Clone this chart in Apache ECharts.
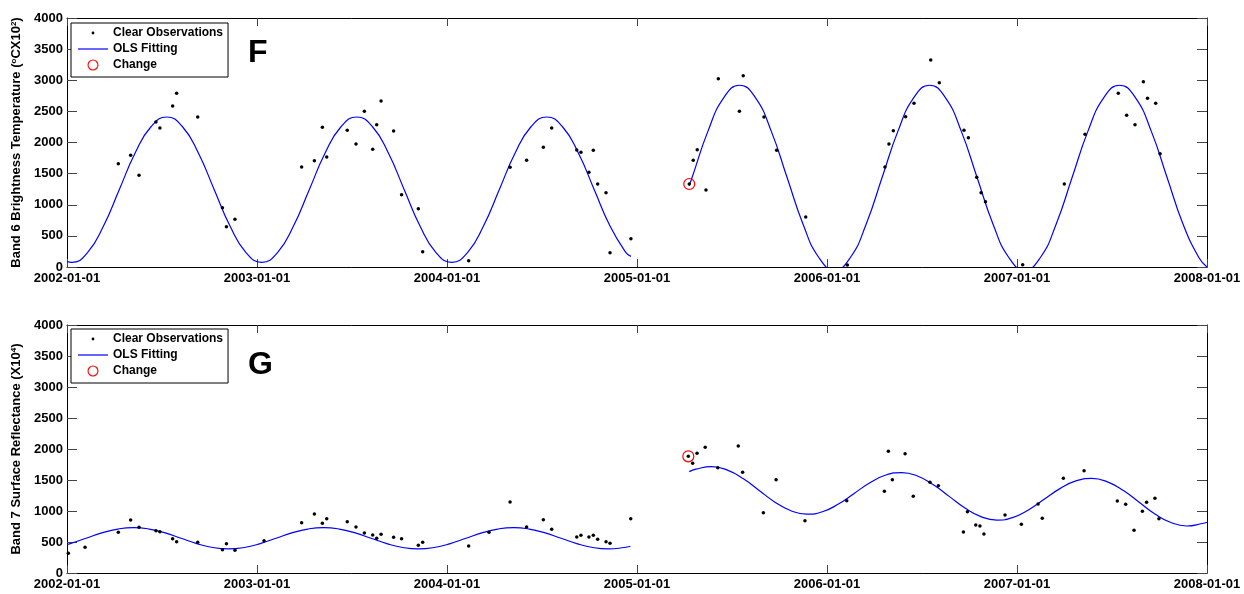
<!DOCTYPE html>
<html><head><meta charset="utf-8">
<script src="https://cdn.jsdelivr.net/npm/echarts@6/dist/echarts.min.js"></script>
<style>html,body{margin:0;padding:0;background:#fff}#c{width:1244px;height:594px}</style>
</head><body><div id="c"></div>
<script>
const xTickLabels = ['2002-01-01','2003-01-01','2004-01-01','2005-01-01','2006-01-01','2007-01-01','2008-01-01'];

// Panel F: Band 6 brightness temperature
const topObs = [[2002.270,1660],[2002.335,1794],[2002.379,1473],[2002.468,2329],[2002.489,2233],[2002.556,2586],[2002.577,2790],[2002.688,2410],[2002.818,953],[2002.839,647],[2002.884,766],
[2003.235,1606],[2003.302,1708],[2003.344,2244],[2003.367,1767],[2003.475,2195],[2003.521,1976],[2003.565,2501],[2003.609,1890],[2003.630,2286],[2003.653,2667],[2003.719,2185],[2003.761,1162],[2003.849,937],[2003.872,246],
[2004.114,101],[2004.332,1601],[2004.419,1713],[2004.507,1922],[2004.551,2233],[2004.683,1880],[2004.705,1842],[2004.747,1521],[2004.770,1874],[2004.793,1333],[2004.837,1194],[2004.858,230],[2004.968,455],
[2005.275,1333],[2005.296,1713],[2005.317,1885],[2005.363,1237],[2005.428,3025],[2005.539,2501],[2005.559,3074],[2005.668,2410],[2005.735,1874],[2005.888,803],
[2006.107,32],[2006.305,1606],[2006.326,1976],[2006.349,2190],[2006.414,2415],[2006.458,2630],[2006.546,3325],[2006.591,2961],[2006.721,2196],[2006.744,2077],[2006.788,1441],[2006.811,1194],[2006.834,1049],
[2007.030,37],[2007.249,1333],[2007.358,2132],[2007.533,2790],[2007.577,2437],[2007.621,2286],[2007.665,2977],[2007.687,2710],[2007.730,2630],[2007.753,1820]];
const topFit1 = [[2002.0,88],[2002.025,75],[2002.108,231],[2002.192,659],[2002.275,1242],[2002.358,1826],[2002.442,2253],[2002.525,2410],[2002.608,2253],[2002.692,1826],[2002.775,1242],[2002.858,659],[2002.942,231],
[2003.025,75],[2003.108,231],[2003.192,659],[2003.275,1242],[2003.358,1826],[2003.442,2253],[2003.525,2410],[2003.608,2253],[2003.692,1826],[2003.775,1242],[2003.858,659],[2003.942,231],
[2004.025,75],[2004.108,231],[2004.192,659],[2004.275,1242],[2004.358,1826],[2004.442,2253],[2004.525,2410],[2004.608,2253],[2004.692,1826],[2004.775,1242],[2004.858,659],[2004.942,231],[2004.968,170]];
const topFit2 = [[2005.275,1310],[2005.29,1437],[2005.373,2179],[2005.457,2721],[2005.54,2920],[2005.623,2721],[2005.707,2179],[2005.79,1437],[2005.873,696],[2005.957,153],
[2006.04,-46],[2006.123,153],[2006.207,696],[2006.29,1437],[2006.373,2179],[2006.457,2721],[2006.54,2920],[2006.623,2721],[2006.707,2179],[2006.79,1437],[2006.873,696],[2006.957,153],
[2007.04,-46],[2007.123,153],[2007.207,696],[2007.29,1437],[2007.373,2179],[2007.457,2721],[2007.54,2920],[2007.623,2721],[2007.707,2179],[2007.79,1437],[2007.873,696],[2007.957,153],[2008.0,0]];
const topChange = [[2005.275,1333]];

// Panel G: Band 7 surface reflectance
const botObs = [[2002.007,317],[2002.095,414],[2002.270,656],[2002.335,855],[2002.379,737],[2002.468,683],[2002.489,667],[2002.556,554],[2002.577,505],[2002.688,495],[2002.818,376],[2002.839,473],[2002.884,366],
[2003.037,522],[2003.235,812],[2003.302,952],[2003.344,801],[2003.367,876],[2003.475,828],[2003.521,742],[2003.565,645],[2003.609,613],[2003.630,559],[2003.653,624],[2003.719,576],[2003.761,554],[2003.849,446],[2003.872,495],
[2004.114,435],[2004.221,656],[2004.332,1145],[2004.419,742],[2004.507,860],[2004.551,705],[2004.683,581],[2004.705,608],[2004.747,581],[2004.770,608],[2004.793,544],[2004.837,505],[2004.858,479],[2004.967,876],
[2005.270,1882],[2005.293,1769],[2005.316,1930],[2005.359,2027],[2005.425,1699],[2005.533,2048],[2005.556,1624],[2005.665,973],[2005.732,1505],[2005.884,844],
[2006.104,1167],[2006.302,1317],[2006.323,1962],[2006.344,1505],[2006.411,1925],[2006.454,1237],[2006.542,1462],[2006.586,1409],[2006.718,661],[2006.739,989],[2006.783,774],[2006.805,758],[2006.826,629],[2006.937,935],
[2007.023,785],[2007.111,1113],[2007.133,882],[2007.244,1527],[2007.353,1650],[2007.528,1161],[2007.572,1108],[2007.616,689],[2007.660,995],[2007.682,1140],[2007.726,1205],[2007.747,876]];
const botFit1 = [[2002.0,459],[2002.017,474],[2002.1,560],[2002.183,646],[2002.267,709],[2002.35,732],[2002.433,709],[2002.517,646],[2002.6,560],[2002.683,474],[2002.767,411],[2002.85,388],[2002.933,411],
[2003.017,474],[2003.1,560],[2003.183,646],[2003.267,709],[2003.35,732],[2003.433,709],[2003.517,646],[2003.6,560],[2003.683,474],[2003.767,411],[2003.85,388],[2003.933,411],
[2004.017,474],[2004.1,560],[2004.183,646],[2004.267,709],[2004.35,732],[2004.433,709],[2004.517,646],[2004.6,560],[2004.683,474],[2004.767,411],[2004.85,388],[2004.933,411],[2004.965,431]];
const botFit2 = [[2005.275,1635],[2005.31,1675],[2005.393,1715],[2005.476,1659],[2005.56,1519],[2005.643,1331],[2005.726,1143],[2005.81,1004],[2005.893,948],[2005.976,988],
[2006.06,1112],[2006.143,1284],[2006.226,1456],[2006.31,1580],[2006.393,1620],[2006.476,1564],[2006.56,1424],[2006.643,1236],[2006.726,1048],[2006.81,909],[2006.893,853],[2006.976,893],
[2007.06,1017],[2007.143,1189],[2007.226,1361],[2007.31,1485],[2007.393,1525],[2007.476,1469],[2007.56,1329],[2007.643,1141],[2007.726,953],[2007.81,814],[2007.893,758],[2007.976,798],[2008.0,818]];
const botChange = [[2005.270,1882]];

const FONT = "'Liberation Sans', Arial, sans-serif";
const chart = echarts.init(document.getElementById('c'), null, {renderer: 'canvas'});

function xAxes(gridIndex) {
  return [
    {type:'value', gridIndex, position:'bottom', min:2002, max:2008, interval:1,
     axisLine:{show:true, onZero:false, lineStyle:{color:'#000', width:1}},
     axisTick:{show:true, inside:true, length:8, lineStyle:{color:'#444'}},
     axisLabel:{show:true, margin:5, showMinLabel:true, showMaxLabel:true, color:'#000', fontWeight:'bold', fontSize:13, fontFamily:FONT,
       formatter: v => xTickLabels[Math.round(v - 2002)]},
     splitLine:{show:false}},
    {type:'value', gridIndex, position:'top', min:2002, max:2008, interval:1,
     axisLine:{show:true, onZero:false, lineStyle:{color:'#000', width:1}},
     axisTick:{show:true, inside:true, length:8, lineStyle:{color:'#444'}},
     axisLabel:{show:false}, splitLine:{show:false}}
  ];
}
function yAxes(gridIndex, nameText) {
  return [
    {type:'value', gridIndex, position:'left', min:0, max:4000, interval:500,
     name: nameText, nameLocation:'middle', nameGap:35, nameRotate:90,
     nameTextStyle:{color:'#000', fontWeight:'bold', fontSize:13, fontFamily:FONT,
       rich:{sup:{fontSize:8, fontWeight:'bold', fontFamily:FONT, color:'#000', verticalAlign:'top', lineHeight:14},
             n:{fontSize:13, fontWeight:'bold', fontFamily:FONT, color:'#000', lineHeight:14}}},
     axisLine:{show:true, onZero:false, lineStyle:{color:'#000', width:1}},
     axisTick:{show:true, inside:true, length:10, lineStyle:{color:'#444'}},
     axisLabel:{show:true, margin:4, color:'#000', fontWeight:'bold', fontSize:13, fontFamily:FONT, formatter: v => String(v)},
     splitLine:{show:false}},
    {type:'value', gridIndex, position:'right', min:0, max:4000, interval:500,
     axisLine:{show:true, onZero:false, lineStyle:{color:'#000', width:1}},
     axisTick:{show:true, inside:true, length:10, lineStyle:{color:'#444'}},
     axisLabel:{show:false}, splitLine:{show:false}}
  ];
}
function legendFor(top) {
  return {
    left:71, top, orient:'vertical', itemWidth:30, itemHeight:12, itemGap:4,
    padding:[4,5,6,7], borderColor:'#000', borderWidth:1, backgroundColor:'#fff',
    textStyle:{color:'#000', fontWeight:'bold', fontSize:12, fontFamily:FONT, lineHeight:12},
    selectedMode:false,
    data:[
      {name:'Clear Observations', icon:'path://M0,0M30,12M13.6,6a1.4,1.4 0 1,0 2.8,0a1.4,1.4 0 1,0 -2.8,0Z', itemStyle:{color:'#000', borderWidth:0, opacity:1}},
      {name:'OLS Fitting', icon:'path://M0,0M30,12M0,5.4L30,5.4L30,6.6L0,6.6Z', itemStyle:{color:'#0000ff', borderWidth:0}},
      {name:'Change', icon:'path://M0,0M30,12M9.5,6a5.5,5.5 0 1,0 11,0a5.5,5.5 0 1,0 -11,0ZM10.6,6a4.4,4.4 0 1,1 8.8,0a4.4,4.4 0 1,1 -8.8,0Z', itemStyle:{color:'#ff0000', borderWidth:0, opacity:1}}
    ]
  };
}
function panelSeries(xi, yi, obs, fit1, fit2, chg) {
  const lineS = data => ({type:'line', name:'OLS Fitting', xAxisIndex:xi, yAxisIndex:yi, data, smooth:0.5,
    symbol:'none', showSymbol:false, clip:true, lineStyle:{color:'#0000ff', width:1.2}, itemStyle:{color:'#0000ff'}, z:2});
  return [
    lineS(fit1), lineS(fit2),
    {type:'scatter', name:'Clear Observations', xAxisIndex:xi, yAxisIndex:yi, data:obs, symbol:'circle', symbolSize:3.5,
     itemStyle:{color:'#000', opacity:1}, z:3},
    {type:'scatter', name:'Change', xAxisIndex:xi, yAxisIndex:yi, data:chg, symbol:'circle', symbolSize:11,
     itemStyle:{color:'rgba(0,0,0,0)', borderColor:'#ff0000', borderWidth:1.2, opacity:1}, z:4}
  ];
}

const option = {
  animation:false,
  backgroundColor:'#fff',
  textStyle:{fontFamily:FONT},
  title:[
    {text:'F', left:248, top:37, padding:0, textStyle:{fontSize:32, fontWeight:'bold', color:'#000', fontFamily:FONT}},
    {text:'G', left:248, top:349, padding:0, textStyle:{fontSize:32, fontWeight:'bold', color:'#000', fontFamily:FONT}}
  ],
  legend:[legendFor(23), legendFor(329)],
  grid:[
    {left:67, top:18, width:1140, height:249, containLabel:false},
    {left:67, top:325, width:1140, height:248, containLabel:false}
  ],
  xAxis:[...xAxes(0), ...xAxes(1)],
  yAxis:[
    ...yAxes(0, '{n|Band 6 Brightness Temperature (}{sup|o}{n|CX10}{sup|2}{n|)}'),
    ...yAxes(1, '{n|Band 7 Surface Reflectance (X10}{sup|4}{n|)}')
  ],
  series:[
    ...panelSeries(0, 0, topObs, topFit1, topFit2, topChange),
    ...panelSeries(2, 2, botObs, botFit1, botFit2, botChange)
  ]
};
chart.setOption(option);
</script></body></html>
